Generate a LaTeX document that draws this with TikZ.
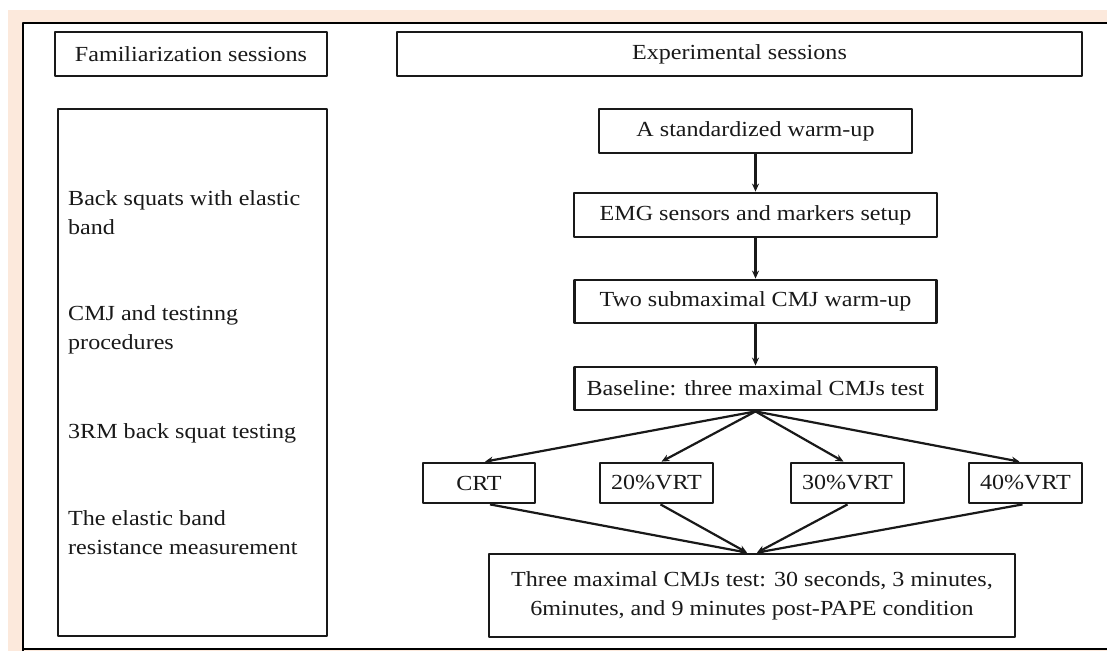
\documentclass[tikz,border=0pt]{standalone}
\usepackage{fontspec}
\setmainfont{Liberation Serif}[FakeStretch=1.12]
\usetikzlibrary{arrows.meta}
\definecolor{peach}{RGB}{252,233,220}
\definecolor{ink}{RGB}{25,25,25}
\begin{document}
\begin{tikzpicture}[x=1pt,y=-1pt,>={Stealth[length=8pt,width=7pt]},line join=round,
	box/.style={draw=ink,line width=2.8pt,inner sep=0pt,text=ink,align=center},
	lst/.style={anchor=west,inner sep=0pt,text=ink,align=left},
	flow/.style={->,line width=2.2pt,ink},
	every node/.append style={font=\fontsize{21.5}{29}\selectfont}]
	\useasboundingbox (0,0) rectangle (1107,651);
	\fill[peach] (8,10) rectangle (1107,651);
	\fill[white] (23,23) rectangle (1107,649);
	\draw[line width=2.6pt] (23,651)--(23,23)--(1107,23) (23,649)--(1107,649);
	% left column
	\node[box,minimum width=272,minimum height=44] (fam) at (191,54) {Familiarization sessions};
	\node[box,minimum width=269,minimum height=527] (famlist) at (192.5,372.5) {};
	\node[lst] (l1) at (68,213) {Back squats with elastic\\band};
	\node[lst] (l2) at (68,330) {CMJ and testinng\\procedures};
	\node[lst] (l3) at (68,433) {3RM back squat testing};
	\node[lst] (l4) at (68,533) {The elastic band\\resistance measurement};
	% right column
	\node[box,minimum width=685,minimum height=44] (exp) at (739.5,54) {Experimental sessions};
	\node[box,minimum width=313,minimum height=44] (warm) at (755.5,131) {A standardized warm-up};
	\node[box,minimum width=363,minimum height=44] (emg) at (755.5,215) {EMG sensors and markers setup};
	\node[box,minimum width=362,minimum height=43] (two) at (755.5,301.5) {Two submaximal CMJ warm-up};
	\node[box,minimum width=362,minimum height=43] (base) at (755.5,388.5) {Baseline: three maximal CMJs test};
	\node[box,minimum width=112,minimum height=40] (crt) at (479,483) {CRT};
	\node[box,minimum width=113,minimum height=40] (v20) at (656.5,483) {20\%VRT};
	\node[box,minimum width=113,minimum height=40] (v30) at (847.5,483) {30\%VRT};
	\node[box,minimum width=113,minimum height=40] (v40) at (1025.5,483) {40\%VRT};
	\node[box,minimum width=526,minimum height=83] (three) at (752,595.5) {Three maximal CMJs test: 30 seconds, 3 minutes,\\6minutes, and 9 minutes post-PAPE condition};
	\draw[flow] (warm.south)--(emg.north);
	\draw[flow] (emg.south)--(two.north);
	\draw[flow] (two.south)--(base.north);
	\draw[flow] (base.south)--([xshift=6pt]crt.north);
	\draw[flow] (base.south)--([xshift=5pt]v20.north);
	\draw[flow] (base.south)--([xshift=-4pt]v30.north);
	\draw[flow] (base.south)--([xshift=-6pt]v40.north);
	\draw[flow] ([xshift=11pt]crt.south)--([xshift=-5pt]three.north);
	\draw[flow] ([xshift=4pt]v20.south)--([xshift=-5pt]three.north);
	\draw[flow] (v30.south)--([xshift=5pt]three.north);
	\draw[flow] ([xshift=-3pt]v40.south)--([xshift=5pt]three.north);
\end{tikzpicture}
\end{document}
